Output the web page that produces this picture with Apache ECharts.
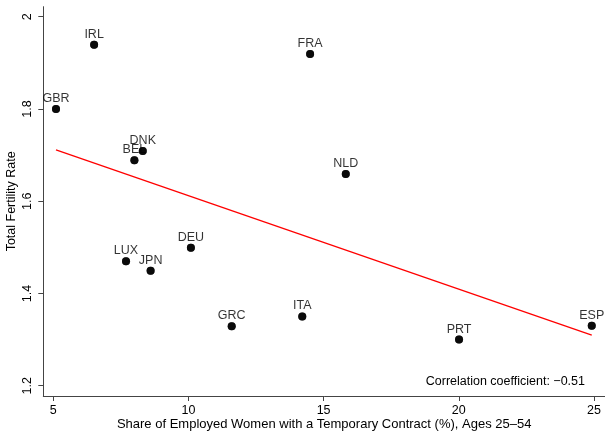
<!DOCTYPE html>
<html>
<head>
<meta charset="utf-8">
<script src="https://cdn.jsdelivr.net/npm/echarts@6/dist/echarts.min.js"></script>
<style>html,body{margin:0;padding:0;background:#fff}#c{width:605px;height:432px}</style>
</head>
<body>
<div id="c"></div>
<script>
const countries = ['IRL','FRA','GBR','DNK','BEL','NLD','DEU','LUX','JPN','GRC','ITA','PRT','ESP'];
const tempShare = [6.51,14.50,5.10,8.31,8.00,15.82,10.09,7.69,8.60,11.60,14.21,20.01,24.92];
const fertility = [1.939,1.919,1.800,1.709,1.689,1.659,1.499,1.470,1.449,1.329,1.350,1.300,1.330];
const xTicks = [5,10,15,20,25];
const yTicks = [1.2,1.4,1.6,1.8,2];
const corrText = 'Correlation coefficient: \u22120.51';

// OLS fit
const n = tempShare.length;
const mx = tempShare.reduce((a,b)=>a+b,0)/n;
const my = fertility.reduce((a,b)=>a+b,0)/n;
let sxy=0, sxx=0;
for (let i=0;i<n;i++){ sxy+=(tempShare[i]-mx)*(fertility[i]-my); sxx+=(tempShare[i]-mx)**2; }
const slope = sxy/sxx, icpt = my - slope*mx;
const xmin = Math.min(...tempShare), xmax = Math.max(...tempShare);
const fitLine = [[xmin, icpt+slope*xmin],[xmax, icpt+slope*xmax]];

const pts = countries.map((c,i)=>[tempShare[i], fertility[i], c]);
const font = 'Liberation Sans, Arial, Helvetica, sans-serif';

const chart = echarts.init(document.getElementById('c'), null, {renderer:'canvas'});
chart.setOption({
  animation:false,
  backgroundColor:'#fff',
  grid:{left:43.3, right:0, top:6.7, bottom:36, containLabel:false, outerBoundsMode:'none'},
  xAxis:{
    type:'value', min:4.63, max:25.41,
    splitLine:{show:false},
    axisLine:{show:true, onZero:false, lineStyle:{color:'#444', width:1}},
    axisTick:{show:true, length:5, customValues:xTicks, lineStyle:{color:'#444'}},
    axisLabel:{customValues:xTicks, color:'#000', fontFamily:font, fontSize:12.5, margin:8},
    name:'Share of Employed Women with a Temporary Contract (%), Ages 25\u201354',
    nameLocation:'middle', nameGap:22, nameMoveOverlap:false,
    nameTextStyle:{color:'#000', fontFamily:font, fontSize:13}
  },
  yAxis:{
    type:'value', min:1.1777, max:2.0217,
    splitLine:{show:false},
    axisLine:{show:true, onZero:false, lineStyle:{color:'#444', width:1}},
    axisTick:{show:true, length:5, customValues:yTicks, lineStyle:{color:'#444'}},
    axisLabel:{customValues:yTicks, rotate:90, color:'#000', fontFamily:font, fontSize:12.5, margin:9,
      formatter:v=>String(+v.toFixed(1))},
    name:'Total Fertility Rate', nameLocation:'middle', nameGap:25, nameRotate:90, nameMoveOverlap:false,
    nameTextStyle:{color:'#000', fontFamily:font, fontSize:12.5}
  },
  series:[
    {type:'scatter', z:1, data:pts, symbolSize:8, itemStyle:{color:'#000'},
     label:{show:true, position:'top', distance:0, formatter:p=>p.data[2], color:'#000', fontFamily:font, fontSize:12.5}},
    {type:'line', z:3, data:fitLine, symbol:'none', lineStyle:{color:'#ff0000', width:1.3}},
    {type:'scatter', z:4, data:pts, symbolSize:8, itemStyle:{color:'#000'}, label:{show:false}}
  ],
  graphic:[{type:'text', right:20, top:375, style:{text:corrText, fill:'#000', font:'12.5px '+font}}]
});
</script>
</body>
</html>
